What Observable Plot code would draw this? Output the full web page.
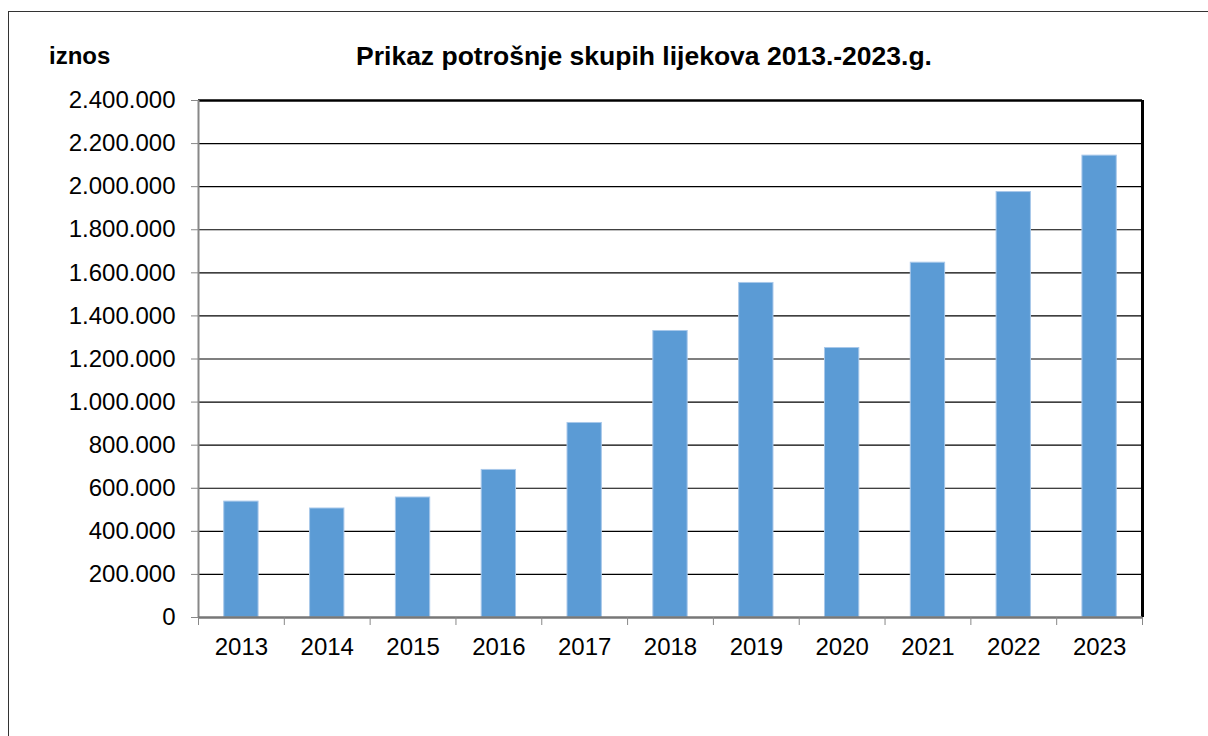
<!DOCTYPE html>
<html>
<head>
<meta charset="utf-8">
<script src="https://cdn.jsdelivr.net/npm/d3@7"></script>
<script src="https://cdn.jsdelivr.net/npm/@observablehq/plot@0.6"></script>
<style>
  html, body { margin: 0; padding: 0; background: #fff; }
  #wrap { position: relative; width: 1208px; height: 736px; overflow: hidden; font-family: "Liberation Sans", Arial, sans-serif; }
  #border { position: absolute; left: 8px; top: 11px; width: 1400px; height: 900px; border: 1.5px solid #333; box-sizing: border-box; }
  #title { position: absolute; left: 0; width: 1288px; top: 41px; text-align: center; font-weight: bold; font-size: 26.5px; color: #000; white-space: nowrap; }
  #ylab { position: absolute; left: 49px; top: 42px; font-weight: bold; font-size: 24px; color: #000; }
  #chart { position: absolute; left: 0; top: 80px; }
</style>
</head>
<body>
<div id="wrap">
  <div id="border"></div>
  <div id="ylab">iznos</div>
  <div id="title">Prikaz potrošnje skupih lijekova 2013.-2023.g.</div>
  <div id="chart"></div>
</div>
<script>
const years = [2013, 2014, 2015, 2016, 2017, 2018, 2019, 2020, 2021, 2022, 2023];
const values = [538000, 506000, 557000, 685000, 903000, 1330000, 1553000, 1251000, 1647000, 1975000, 2144000];
const yTicks = [0, 200000, 400000, 600000, 800000, 1000000, 1200000, 1400000, 1600000, 1800000, 2000000, 2200000, 2400000];

const data = years.map((year, i) => ({year, value: values[i]}));
const boundaries = [years[0] - 0.5, ...years.map(y => y + 0.5)];
const yMax = yTicks[yTicks.length - 1];

const locale = d3.formatLocale({decimal: ",", thousands: ".", grouping: [3], currency: ["", ""]});
const fmt = locale.format(",d");

const chart = Plot.plot({
  width: 1208,
  height: 656,
  marginLeft: 198,
  marginRight: 66,
  marginTop: 20,
  marginBottom: 119,
  style: {fontFamily: "'Liberation Sans', Arial, sans-serif", fontSize: "24px", color: "#000", background: "transparent"},
  x: {type: "linear", domain: [boundaries[0], boundaries[boundaries.length - 1]]},
  y: {domain: [0, yMax]},
  marks: [
    Plot.ruleY(yTicks.filter(d => d > 0 && d < yMax), {stroke: "#000", strokeWidth: 1.2}),
    Plot.rectY(data, {x1: d => d.year - 0.2, x2: d => d.year + 0.2, y: "value", fill: "#5B9BD5", stroke: "#A8C8EA", strokeWidth: 1}),
    Plot.ruleY([yMax], {stroke: "#000", strokeWidth: 2.5}),
    Plot.ruleX([boundaries[boundaries.length - 1]], {stroke: "#000", strokeWidth: 3}),
    Plot.ruleX([boundaries[0]], {stroke: "#888", strokeWidth: 2}),
    Plot.ruleY([0], {stroke: "#777", strokeWidth: 2.5}),
    Plot.axisY({ticks: yTicks, tickFormat: fmt, tickSize: 7, tickPadding: 16, stroke: "#888", fill: "#000", fontSize: 24, label: null}),
    Plot.axisX({ticks: boundaries, tickFormat: () => "", tickSize: 8, stroke: "#888", label: null}),
    Plot.axisX({ticks: years, tickFormat: d => String(d), tickSize: 0, tickPadding: 20, fill: "#000", fontSize: 24, label: null})
  ]
});
document.getElementById("chart").appendChild(chart);
</script>
</body>
</html>
